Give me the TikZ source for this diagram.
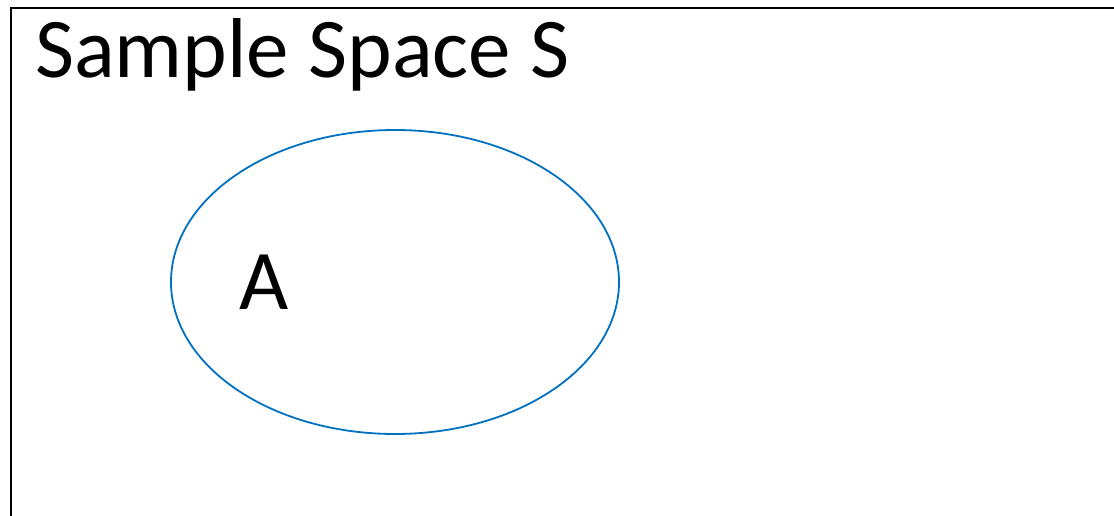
\documentclass[tikz,border=0pt]{standalone}
\usepackage{fontspec}
\setmainfont{Carlito}
\usetikzlibrary{positioning,shapes.geometric}

\definecolor{evblue}{RGB}{0,112,192}

\begin{document}
\begin{tikzpicture}[
  x=1pt, y=-1pt,
  frame/.style={draw, line width=2pt},
  event/.style={draw=evblue, line width=1.8pt, ellipse, inner sep=0pt,
                minimum width=448pt, minimum height=304pt},
  bigtext/.style={font=\fontsize{85}{100}\selectfont, inner sep=0pt},
]

% -- page size and cut-off frame --
\useasboundingbox (0,0) rectangle (1114,516);
\clip (0,0) rectangle (1114,516);
\draw[frame] (11,8) rectangle (1140,540);

% -- title --
\node[bigtext, anchor=base west] (title) at (35,78) {Sample Space S};

% -- event A --
\node[event] (evA) at (395,282) {};
\node[bigtext, right=69pt of evA.west] (labA) {A};

\end{tikzpicture}
\end{document}
